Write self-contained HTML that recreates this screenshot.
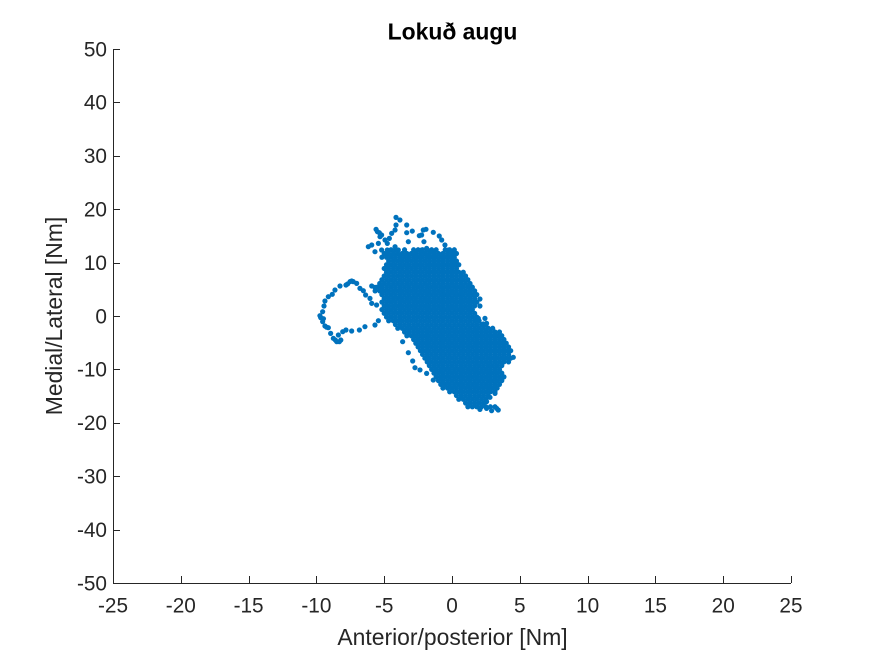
<!DOCTYPE html>
<html lang="is">
<head>
<meta charset="utf-8">
<title>Lokuð augu</title>
<style>
html,body{margin:0;padding:0;background:#fff;}
#chart{display:block;width:875px;height:656px;font-family:"Liberation Sans",Arial,sans-serif;}
text{fill:#262626;}
.tick-label{font-size:20.8px;}
.axis-title{font-size:22.9px;}
.chart-title{font-size:22.9px;font-weight:bold;fill:#000;}
</style>
</head>
<body>
<svg id="chart" xmlns="http://www.w3.org/2000/svg" width="875" height="656" viewBox="0 0 875 656">
<rect x="0" y="0" width="875" height="656" fill="#fff"/>
<g id="dots" fill="#0072BD"></g>
<g id="axes"></g>
<text class="chart-title" x="452.5" y="39.5" text-anchor="middle">Lokuð augu</text>
<text class="axis-title" x="452.5" y="645" text-anchor="middle">Anterior/posterior [Nm]</text>
<text class="axis-title" transform="translate(62 316) rotate(-90)" text-anchor="middle">Medial/Lateral [Nm]</text>
</svg>
<script>
const xTicks = [-25,-20,-15,-10,-5,0,5,10,15,20,25];
const yTicks = [-50,-40,-30,-20,-10,0,10,20,30,40,50];
const xDomain = [-25,25];
const yDomain = [-50,50];

const bodyMedialRows = [12.4,11.7,11,10.3,9.6,8.9,8.2,7.5,6.8,6.1,5.4,4.7,4,3.3,2.6,1.9,1.2,0.5,-0.2,-0.9,-1.6,-2.3,-3,-3.7,-4.4,-5.1,-5.8,-6.5,-7.2,-7.9,-8.6,-9.3,-10,-10.7,-11.4,-12.1,-12.8,-13.5,-14.2,-14.9,-15.6,-16.3,-17];
const bodyAnteriorRows = [
[-4.5,-4.17,-3.5,-2.83,-2.5,-2.17,-1.83,-1.5,-1.17,-.5,-.17,.17],
[-5,-4.67,-4.33,-4,-3.67,-3.33,-3,-2.67,-2.33,-2,-1.67,-1.33,-1,-.67,-.33,0,.33],
[-5.17,-4.83,-4.5,-4.17,-3.83,-3.5,-3.17,-2.83,-2.5,-2.17,-1.83,-1.5,-1.17,-.83,-.5,-.17,.17],
[-4.67,-4.33,-4,-3.67,-3.33,-3,-2.67,-2.33,-2,-1.67,-1.33,-1,-.67,-.33,0,.33],
[-4.83,-4.5,-4.17,-3.83,-3.5,-3.17,-2.83,-2.5,-2.17,-1.83,-1.5,-1.17,-.83,-.5,-.17,.17,.5],
[-5,-4.67,-4.33,-4,-3.67,-3.33,-3,-2.67,-2.33,-2,-1.67,-1.33,-1,-.67,-.33,0,.33],
[-4.83,-4.5,-4.17,-3.83,-3.5,-3.17,-2.83,-2.5,-2.17,-1.83,-1.5,-1.17,-.83,-.5,-.17,.17,.5,.83],
[-5,-4.67,-4.33,-4,-3.67,-3.33,-3,-2.67,-2.33,-2,-1.67,-1.33,-1,-.67,-.33,0,.33,.67,1],
[-5.17,-4.83,-4.5,-4.17,-3.83,-3.5,-3.17,-2.83,-2.5,-2.17,-1.83,-1.5,-1.17,-.83,-.5,-.17,.17,.5,.83,1.17],
[-5.33,-5,-4.67,-4.33,-4,-3.67,-3.33,-3,-2.67,-2.33,-2,-1.67,-1.33,-1,-.67,-.33,0,.33,.67,1,1.33],
[-5.5,-5.17,-4.83,-4.5,-4.17,-3.83,-3.5,-3.17,-2.83,-2.5,-2.17,-1.83,-1.5,-1.17,-.83,-.5,-.17,.17,.5,.83,1.17,1.5],
[-5.67,-5.33,-5,-4.67,-4.33,-4,-3.67,-3.33,-3,-2.67,-2.33,-2,-1.67,-1.33,-1,-.67,-.33,0,.33,.67,1,1.33,1.67],
[-5.17,-4.83,-4.5,-4.17,-3.83,-3.5,-3.17,-2.83,-2.5,-2.17,-1.83,-1.5,-1.17,-.83,-.5,-.17,.17,.5,.83,1.17,1.5,1.83],
[-5,-4.67,-4.33,-4,-3.67,-3.33,-3,-2.67,-2.33,-2,-1.67,-1.33,-1,-.67,-.33,0,.33,.67,1,1.33,1.67],
[-5.17,-4.83,-4.5,-4.17,-3.83,-3.5,-3.17,-2.83,-2.5,-2.17,-1.83,-1.5,-1.17,-.83,-.5,-.17,.17,.5,.83,1.17,1.5,1.83],
[-5,-4.67,-4.33,-4,-3.67,-3.33,-3,-2.67,-2.33,-2,-1.67,-1.33,-1,-.67,-.33,0,.33,.67,1,1.33,1.67],
[-5.17,-4.83,-4.5,-4.17,-3.83,-3.5,-3.17,-2.83,-2.5,-2.17,-1.83,-1.5,-1.17,-.83,-.5,-.17,.17,.5,.83,1.17,1.5],
[-5,-4.67,-4.33,-4,-3.67,-3.33,-3,-2.67,-2.33,-2,-1.67,-1.33,-1,-.67,-.33,0,.33,.67,1,1.33,1.67],
[-4.83,-4.5,-4.17,-3.83,-3.5,-3.17,-2.83,-2.5,-2.17,-1.83,-1.5,-1.17,-.83,-.5,-.17,.17,.5,.83,1.17,1.5,1.83],
[-4.67,-4.33,-4,-3.67,-3.33,-3,-2.67,-2.33,-2,-1.67,-1.33,-1,-.67,-.33,0,.33,.67,1,1.33,1.67,2],
[-4.17,-3.83,-3.5,-3.17,-2.83,-2.5,-2.17,-1.83,-1.5,-1.17,-.83,-.5,-.17,.17,.5,.83,1.17,1.5,1.83,2.17,2.5],
[-4,-3.67,-3.33,-3,-2.67,-2.33,-2,-1.67,-1.33,-1,-.67,-.33,0,.33,.67,1,1.33,1.67,2,2.33,2.67,3],
[-3.5,-3.17,-2.83,-2.5,-2.17,-1.83,-1.5,-1.17,-.83,-.5,-.17,.17,.5,.83,1.17,1.5,1.83,2.17,2.5,2.83,3.17,3.5],
[-3.33,-3,-2.67,-2.33,-2,-1.67,-1.33,-1,-.67,-.33,0,.33,.67,1,1.33,1.67,2,2.33,2.67,3,3.33,3.67],
[-2.83,-2.5,-2.17,-1.83,-1.5,-1.17,-.83,-.5,-.17,.17,.5,.83,1.17,1.5,1.83,2.17,2.5,2.83,3.17,3.5,3.83],
[-2.67,-2.33,-2,-1.67,-1.33,-1,-.67,-.33,0,.33,.67,1,1.33,1.67,2,2.33,2.67,3,3.33,3.67,4],
[-2.5,-2.17,-1.83,-1.5,-1.17,-.83,-.5,-.17,.17,.5,.83,1.17,1.5,1.83,2.17,2.5,2.83,3.17,3.5,3.83,4.17],
[-2.33,-2,-1.67,-1.33,-1,-.67,-.33,0,.33,.67,1,1.33,1.67,2,2.33,2.67,3,3.33,3.67,4,4.33],
[-2.17,-1.83,-1.5,-1.17,-.83,-.5,-.17,.17,.5,.83,1.17,1.5,1.83,2.17,2.5,2.83,3.17,3.5,3.83,4.17],
[-2,-1.67,-1.33,-1,-.67,-.33,0,.33,.67,1,1.33,1.67,2,2.33,2.67,3,3.33,3.67,4,4.33],
[-1.83,-1.5,-1.17,-.83,-.5,-.17,.17,.5,.83,1.17,1.5,1.83,2.17,2.5,2.83,3.17,3.5,3.83,4.17],
[-1.67,-1.33,-1,-.67,-.33,0,.33,.67,1,1.33,1.67,2,2.33,2.67,3,3.33,3.67],
[-1.5,-1.17,-.83,-.5,-.17,.17,.5,.83,1.17,1.5,1.83,2.17,2.5,2.83,3.17,3.5],
[-1.33,-1,-.67,-.33,0,.33,.67,1,1.33,1.67,2,2.33,2.67,3,3.33,3.67],
[-1.17,-.83,-.5,-.17,.17,.5,.83,1.17,1.5,1.83,2.17,2.5,2.83,3.17,3.5,3.83],
[-1,-.67,-.33,0,.33,.67,1,1.33,1.67,2,2.33,2.67,3,3.33,3.67],
[-.83,-.5,-.17,.17,.5,.83,1.17,1.5,1.83,2.17,2.5,2.83,3.17,3.5],
[-.67,-.33,0,.33,.67,1,1.33,1.67,2,2.33,2.67,3,3.33],
[-.17,.17,.5,.83,1.17,1.5,1.83,2.17,2.5,2.83,3.17],
[.33,.67,1,1.33,1.67,2,2.33,2.67],
[.5,.83,1.17,1.5,1.83,2.17,2.5],
[1,1.33,1.67,2,2.33],
[1.17,1.5,1.83,2.17,2.5,2.83,3.17]
];

const strayAnterior = [-4.13,-3.84,-4.13,-4.2,-4.45,-4.62,-4.77,-4.94,-5.19,-5.36,-5.6,-5.5,-5.31,-3.34,-3.34,-2.93,-2.41,-3.22,-1.92,-2.12,-2.24,-2.07,-1.38,-.94,-.76,-.52,-6.17,-5.92,-5.43,-5.68,-5.19,-4.77,-4.2,-3.96,-1.87,-2.24,-1.5,-.27,.22,.15,
-5.43,-5.68,-6.42,-6.83,-7.4,-7.82,-8.06,-8.38,-8.31,-8.5,-8.75,-8.95,-9.12,-9.37,-9.54,-9.74,-9.54,-9.44,-9.37,-9.12,-8.83,-8.63,-8.26,-7.82,-7.52,-7.28,-7.03,-6.79,-6.54,-6.37,-6.05,-5.92,-5.56,-5.92,-5.68,-7.7,-7.4,-9.48,-9.25,-8.6,-8.2,-9.68,
2.06,2.06,1.94,2.43,2.55,2.31,-3.64,-3.22,-2.9,-2.73,-2.36,-1.87,-1.38,4.52,
3.29,3.41,2.92,2.55,2.06,2.55,2.8,3.17];
const strayMedial = [18.47,17.98,17.04,16.1,15.48,14.54,13.6,14.23,15.17,15.6,16.23,15.79,14.85,17.04,15.6,15.9,15.04,13.92,16.23,16.1,15.17,13.92,15.67,14.98,14.23,13.3,12.98,13.3,13.6,12.04,12.36,12.36,12.98,12.36,12.67,12.36,12.36,12.36,11.86,10.17,
-.88,-1.69,-2,-2.62,-2.81,-2.62,-2.94,-3.56,-4.81,-4.81,-4.18,-3.25,-2.19,-1.87,-1.06,.06,.81,1.87,2.81,3.62,4.06,4.87,5.62,5.8,6.43,6.43,6.11,5.18,4.74,3.93,3.3,2.37,2.06,5.62,5.37,6,6.55,-.5,-2.1,-4.5,-4.5,-.3,
3.18,1.87,-.44,-.44,-1.38,-1.5,-4.81,-6.87,-8.43,-9.68,-10.1,-10.74,-12,-7.74,
-17.29,-17.6,-17.73,-17.3,-17.5,-16.04,-15.23,-14.5];

const plotLeft = 113, plotRight = 791, plotTop = 49, plotBottom = 583;
const NS = 'http://www.w3.org/2000/svg';

function xScale(v){ return plotLeft + (v - xDomain[0]) / (xDomain[1] - xDomain[0]) * (plotRight - plotLeft); }
function yScale(v){ return plotBottom - (v - yDomain[0]) / (yDomain[1] - yDomain[0]) * (plotBottom - plotTop); }

const dots = document.getElementById('dots');
function addDot(ap, ml){
  const c = document.createElementNS(NS, 'circle');
  
  
  c.setAttribute('cx', xScale(ap).toFixed(2));
  c.setAttribute('cy', yScale(ml).toFixed(2));
  c.setAttribute('r', '2.6');
  dots.appendChild(c);
}
bodyMedialRows.forEach(function(ml, i){
  bodyAnteriorRows[i].forEach(function(ap){ addDot(ap, ml); });
});
strayAnterior.forEach(function(ap, i){ addDot(ap, strayMedial[i]); });

const axes = document.getElementById('axes');
function addLine(name, x1, y1, x2, y2){
  const l = document.createElementNS(NS, 'line');
  
  
  l.setAttribute('x1', x1);
  l.setAttribute('y1', y1);
  l.setAttribute('x2', x2);
  l.setAttribute('y2', y2);
  l.setAttribute('stroke', '#262626');
  l.setAttribute('stroke-width', '1');
  l.setAttribute('shape-rendering', 'crispEdges');
  axes.appendChild(l);
}
function addLabel(name, x, y, anchor, str){
  const t = document.createElementNS(NS, 'text');
  
  
  t.setAttribute('class', 'tick-label');
  t.setAttribute('x', x);
  t.setAttribute('y', y);
  t.setAttribute('text-anchor', anchor);
  t.textContent = str;
  axes.appendChild(t);
}
addLine('x-axis-line', plotLeft, plotBottom + 0.5, plotRight, plotBottom + 0.5);
addLine('y-axis-line', plotLeft + 0.5, plotTop, plotLeft + 0.5, plotBottom);
xTicks.forEach(function(v){
  const x = Math.round(xScale(v)) + 0.5;
  addLine('x-tick', x, plotBottom, x, plotBottom - 7);
  addLabel('x-tick-label', xScale(v), 612.5, 'middle', String(v));
});
yTicks.forEach(function(v){
  const y = Math.round(yScale(v)) + 0.5;
  addLine('y-tick', plotLeft, y, plotLeft + 7, y);
  addLabel('y-tick-label', plotLeft - 6, yScale(v) + 7.3, 'end', String(v));
});
</script>
</body>
</html>
